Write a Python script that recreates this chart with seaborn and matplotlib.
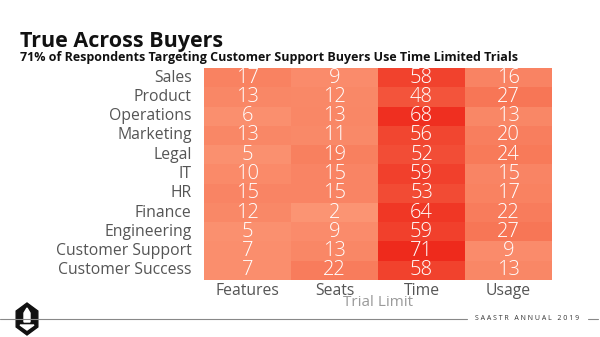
import matplotlib
matplotlib.use("Agg")
import matplotlib.pyplot as plt
import seaborn as sns
import pandas as pd
import numpy as np
from matplotlib.colors import LinearSegmentedColormap
from matplotlib.patches import Polygon

buyers = ["Sales", "Product", "Operations", "Marketing", "Legal", "IT", "HR",
          "Finance", "Engineering", "Customer Support", "Customer Success"]
limits = ["Features", "Seats", "Time", "Usage"]
features = [17, 13, 6, 13, 5, 10, 15, 12, 5, 7, 7]
seats = [9, 12, 13, 11, 19, 15, 15, 2, 9, 13, 22]
time_ = [58, 48, 68, 56, 52, 59, 53, 64, 59, 71, 58]
usage = [16, 27, 13, 20, 24, 15, 17, 22, 27, 9, 13]

df = pd.DataFrame({"Features": features, "Seats": seats, "Time": time_, "Usage": usage},
                  index=buyers)

sns.set_theme(style="white")
plt.rcParams['font.family'] = ['Open Sans', 'DejaVu Sans']

fig = plt.figure(figsize=(6.0, 3.37), dpi=100)
W, H = 600, 337
ax = fig.add_axes([204 / W, 1 - 280 / H, 348 / W, 212 / H])

cmap = LinearSegmentedColormap.from_list("salmonred", ["#FB9675", "#F66C4C", "#EE2A1C"])
sns.heatmap(df, ax=ax, cmap=cmap, vmin=0, vmax=71, cbar=False, annot=True, fmt="d",
            annot_kws={"color": "white", "fontsize": 14.5, "fontweight": "light"},
            linewidths=0)

ax.tick_params(axis="y", length=0, pad=9)
ax.tick_params(axis="x", length=0, pad=2)
ax.set_yticklabels(buyers, rotation=0, fontsize=11.3, color="#555555")
ax.set_xticklabels(limits, rotation=0, fontsize=11.3, color="#555555")
ax.set_xlabel("Trial Limit", fontsize=11, color="#9a9a9a", labelpad=-3)
ax.set_ylabel("")

fig.text(20 / W, 1 - 41 / H, "True Across Buyers", fontsize=15.5, fontweight="bold",
         color="#111111", va="center", ha="left")
fig.text(20 / W, 1 - 57 / H,
         "71% of Respondents Targeting Customer Support Buyers Use Time Limited Trials",
         fontsize=9.0, fontweight="bold", color="#111111", va="center", ha="left")

# footer line and branding
ly = 1 - 319 / H
fig.add_artist(plt.Line2D([0, 467 / W], [ly, ly], color="#888888", lw=0.8))
fig.add_artist(plt.Line2D([588 / W, 598 / W], [ly, ly], color="#888888", lw=0.8))
fig.text(527 / W, ly, "S A A S T R   A N N U A L   2 0 1 9", fontsize=5,
         color="#333333", va="center", ha="center")

cx, cy, rw, rh = 27, 319, 12.5, 16
hex_pts = [(cx + rw * np.sin(a), cy - rh * np.cos(a)) for a in np.linspace(0, 2 * np.pi, 7)[:-1]]
fig.add_artist(Polygon([(x / W, 1 - y / H) for x, y in hex_pts], closed=True,
                       color="#111111", transform=fig.transFigure))
rocket = [(24, 322), (24, 313), (27, 308), (30, 313), (30, 322)]
fig.add_artist(Polygon([(x / W, 1 - y / H) for x, y in rocket], closed=True,
                       color="white", transform=fig.transFigure))
base = [(20, 325), (34, 325), (27, 330)]
fig.add_artist(Polygon([(x / W, 1 - y / H) for x, y in base], closed=True,
                       color="white", transform=fig.transFigure))

fig.savefig("out.png", dpi=100)
